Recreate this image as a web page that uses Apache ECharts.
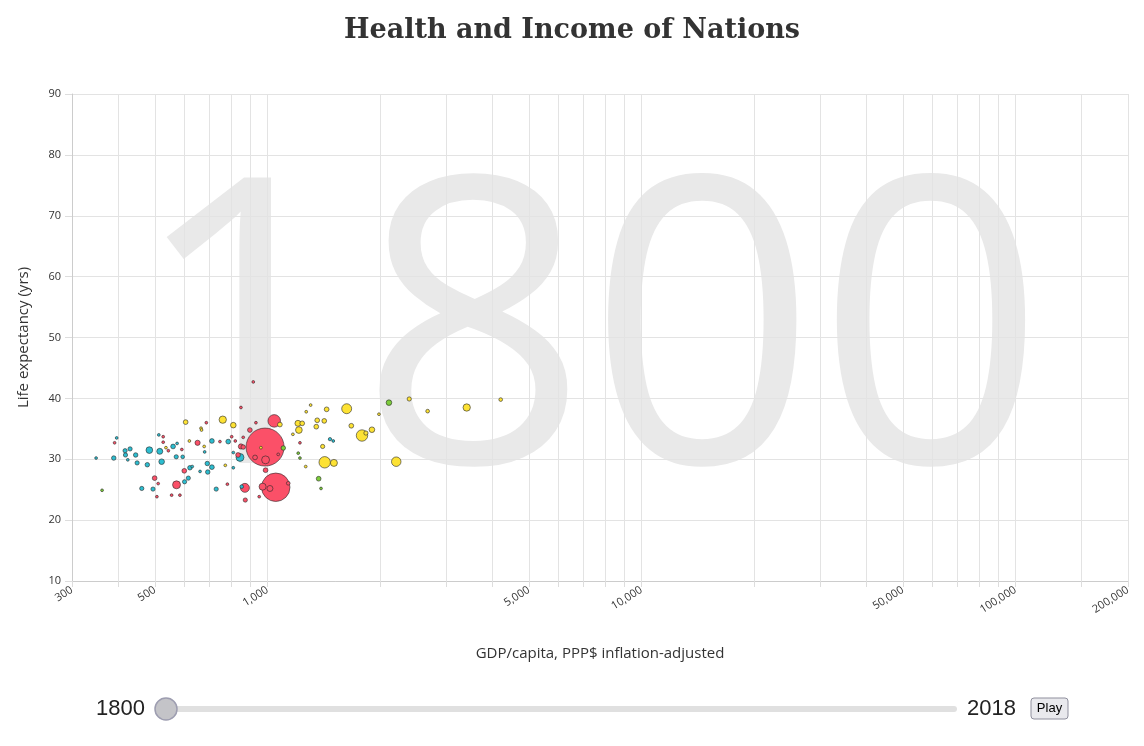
<!DOCTYPE html>
<html>
<head>
<meta charset="utf-8">
<script src="https://cdn.jsdelivr.net/npm/echarts@6/dist/echarts.min.js"></script>
<style>
html,body{margin:0;padding:0;background:#fff;}
#chart{width:1144px;height:746px;}
</style>
</head>
<body>
<div id="chart"></div>
<script>
// ---- data (year 1800) ----
const gdpPerCapita = [348,361,388,390,395,416,417,429,423,444,448,461,477,483,494,499,506,512,515,521,526,535,543,554,559,570,571,573,583,590,599,604,600,614,620,618,629,650,664,666,677,679,686,690,692,710,710,729,746,759,771,781,785,802,810,810,810,820,834,844,849,849,861,861,870,853,872,897,916,931,985,1042,1052,970,988,1079,1102,1136,1169,1206,1213,1238,1221,1208,1221,1265,1269,1304,1358,1350,1370,1390,1404,1418,1422,1439,1469,1499,1505,1628,1675,1789,1833,1902,1986,2112,2393,2680,3409,4203,2209,950,988,926,1015,1068,960,593,526,660,510];
const lifeExpectancy = [30.2,24.9,30.2,32.7,33.5,31.4,30.7,31.7,29.9,30.7,29.4,25.2,29.1,31.5,25.1,26.9,23.85,34.0,31.3,29.6,32.8,31.9,31.4,24.1,32.1,30.4,25.8,32.6,24.1,31.6,28.1,36.1,26.3,26.9,28.6,33.0,28.8,32.7,35.1,34.8,32.1,31.2,36.0,29.3,27.9,33.0,28.7,25.1,32.9,36.5,29.0,25.9,32.9,33.7,35.6,31.1,28.6,33.0,30.7,30.3,38.5,32.1,33.6,32.0,25.3,25.5,23.3,34.8,42.7,36.0,32.0,36.3,25.4,25.5,28.2,35.7,31.85,26.05,34.1,35.9,34.8,35.9,32.7,31.0,30.2,28.8,37.8,38.9,36.4,35.35,26.8,25.2,32.1,36.3,29.5,38.2,33.3,33.0,29.4,38.3,35.5,33.9,34.3,34.85,37.4,39.3,39.9,37.9,38.5,39.8,29.6,23.85,29.9,30.3,25.2,30.8,31.9,30.4,33.7,28.0,26.0];
const populationMillions = [1.5,1,4.5,1,1,4,4,4,1,4.5,4,4,4.5,10,4,5,1,1,8,7,1,1.5,1.5,1,5,4,14,1,1,1,5,5,4,4,4.5,1.5,1,6,1.5,1,1.5,1,1,4.5,4.5,5,5,4,1,12,1.5,1,5,1,7,1,1,1,5,14,1,6,1.5,4.5,18,3,4,5,1,1,321,35,180,11,5,5,4.5,3,1,8,10,5,1,1,1,1.5,1.5,1.5,5,5,5,1,4,5,29,5,2.5,1,11,22,5,29,4,7,1.5,7,4,3,12,3,20,1,14,5,8,1,1.5,3,1,1,1];
const region = ['f','m','f','a','f','f','f','f','f','f','f','f','f','f','f','a','a','f','f','f','a','e','a','a','f','f','a','f','a','a','a','e','f','f','f','e','f','a','e','e','e','f','a','f','f','f','f','f','a','e','e','a','f','a','e','f','f','a','a','f','a','a','a','a','a','f','a','a','a','a','a','a','a','a','a','e','m','a','e','e','e','e','a','m','m','e','e','e','e','e','m','m','e','e','e','e','f','f','e','e','e','e','e','e','e','m','e','e','e','e','e','a','a','a','a','a','e','f','a','f','a'];

const regionColors = { a: '#fb5068', f: '#2cbdd0', e: '#fde234', m: '#7ccd3a' };

const xGridTicks = [300,400,500,600,700,800,900,1000,2000,3000,4000,5000,6000,7000,8000,9000,10000,20000,30000,40000,50000,60000,70000,80000,90000,100000,150000,200000];
const xLabelTicks = [300,500,1000,5000,10000,50000,100000,200000];
const xMin = 300, xMax = 200000;
const yMin = 10, yMax = 90, yStep = 10;

const currentYear = 1800, firstYear = 1800, lastYear = 2018;

// ---- build ----
const points = gdpPerCapita.map((g, i) => [Math.log10(g), lifeExpectancy[i], populationMillions[i], region[i]]);
points.sort((p, q) => q[2] - p[2]);

const maxPop = 321, maxRadius = 19;
function bubbleSize(v) {
  const r = Math.max(1.4, maxRadius * Math.sqrt(v[2] / maxPop));
  return r * 2;
}

// slider geometry
const trackX = 160, trackW = 797, trackY = 709;
const handleX = trackX + 6 + (currentYear - firstYear) / (lastYear - firstYear) * (trackW - 12);

const chart = echarts.init(document.getElementById('chart'), null, { renderer: 'canvas' });
chart.setOption({
  animation: false,
  backgroundColor: '#fff',
  title: {
    text: 'Health and Income of Nations',
    left: 'center',
    top: 12,
    textStyle: { fontFamily: 'DejaVu Serif', fontWeight: 'bold', fontSize: 27, color: '#333' }
  },
  grid: { left: 72, right: 16, top: 94, bottom: 165, containLabel: false },
  xAxis: {
    type: 'value',
    min: Math.log10(xMin),
    max: Math.log10(xMax),
    name: 'GDP/capita, PPP$ inflation-adjusted',
    nameLocation: 'middle',
    nameGap: 65,
    nameTextStyle: { fontFamily: 'Open Sans', fontSize: 15, color: '#333' },
    axisLine: { show: true, lineStyle: { color: '#ccc', width: 1 } },
    axisTick: { show: true, length: 6, customValues: xGridTicks.map(v => Math.log10(v)), lineStyle: { color: '#ddd' } },
    splitLine: { show: true, lineStyle: { color: '#e3e3e3', width: 1 } },
    axisLabel: {
      customValues: xLabelTicks.map(v => Math.log10(v)),
      rotate: 32,
      margin: 8,
      fontFamily: 'Open Sans',
      fontSize: 11,
      color: '#333',
      formatter: v => Math.round(Math.pow(10, v)).toLocaleString('en-US')
    }
  },
  yAxis: {
    type: 'value',
    min: yMin,
    max: yMax,
    interval: yStep,
    name: 'Life expectancy (yrs)',
    nameLocation: 'middle',
    nameGap: 41,
    nameTextStyle: { fontFamily: 'Open Sans', fontSize: 15, color: '#333' },
    axisLine: { show: true, lineStyle: { color: '#ccc', width: 1 } },
    axisTick: { show: true, length: 7, lineStyle: { color: '#ddd' } },
    splitLine: { show: true, lineStyle: { color: '#e3e3e3', width: 1 } },
    axisLabel: { margin: 11, fontFamily: 'Open Sans', fontSize: 11, color: '#333' }
  },
  graphic: [
    {
      type: 'text', z: -100, silent: true,
      x: 588, y: 349,
      style: { text: String(currentYear), font: '400px "Open Sans"', fill: '#e9e9e9', textAlign: 'center', textVerticalAlign: 'middle' }
    },
    {
      type: 'text', x: 145, y: trackY,
      style: { text: String(firstYear), font: '22px "Liberation Sans"', fill: '#222', textAlign: 'right', textVerticalAlign: 'middle' }
    },
    {
      type: 'rect', shape: { x: trackX, y: trackY - 3, width: trackW, height: 6, r: 3 },
      style: { fill: '#e0e0e0' }
    },
    {
      type: 'circle', shape: { cx: handleX, cy: trackY, r: 11 },
      style: { fill: '#c4c4c8', stroke: '#9d9db0', lineWidth: 1.5 }
    },
    {
      type: 'text', x: 967, y: trackY,
      style: { text: String(lastYear), font: '22px "Liberation Sans"', fill: '#222', textAlign: 'left', textVerticalAlign: 'middle' }
    },
    {
      type: 'rect', shape: { x: 1031, y: 698, width: 37, height: 21, r: 3 },
      style: { fill: '#e9e9ed', stroke: '#8f8f9d', lineWidth: 1 }
    },
    {
      type: 'text', x: 1049.5, y: 708.5,
      style: { text: 'Play', font: '13px "Liberation Sans"', fill: '#000', textAlign: 'center', textVerticalAlign: 'middle' }
    }
  ],
  series: [{
    type: 'scatter',
    silent: true,
    data: points,
    symbolSize: bubbleSize,
    itemStyle: {
      color: p => regionColors[p.data[3]],
      borderColor: 'rgba(40,40,40,0.75)',
      borderWidth: 0.8,
      opacity: 1
    }
  }]
});
</script>
</body>
</html>
